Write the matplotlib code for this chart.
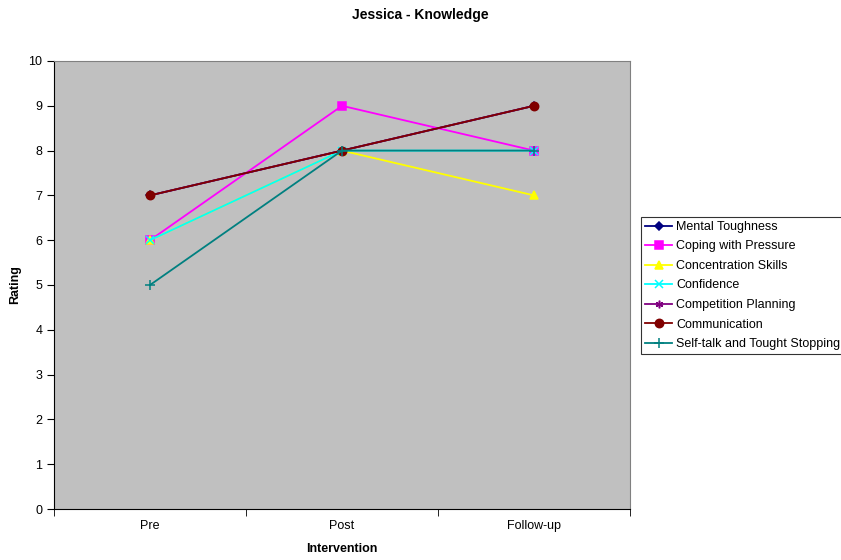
import matplotlib
matplotlib.use('Agg')
import matplotlib.pyplot as plt
from matplotlib.ticker import FixedLocator, NullFormatter

# ============ 数据 ============
phases = ['Pre', 'Post', 'Follow-up']
series_names = ['Mental Toughness', 'Coping with Pressure', 'Concentration Skills',
                'Confidence', 'Competition Planning', 'Communication',
                'Self-talk and Tought Stopping']
mental_toughness = [7, 8, 9]
coping_pressure = [6, 9, 8]
concentration = [6, 8, 7]
confidence = [6, 8, 8]
competition_planning = [7, 8, 9]
communication = [7, 8, 9]
self_talk = [5, 8, 8]

values = [mental_toughness, coping_pressure, concentration, confidence,
          competition_planning, communication, self_talk]
colors = ['#000080', '#FF00FF', '#FFFF00', '#00FFFF', '#800080', '#800000', '#008080']
markers = ['D', 's', '^', 'x', (6, 2, 0), 'o', '+']
sizes = [4.5, 5.5, 5.5, 5.5, 5.5, 6, 7]

plt.rcParams['font.family'] = ['Liberation Sans', 'DejaVu Sans']

fig = plt.figure(figsize=(8.41, 5.6), dpi=100)
ax = fig.add_axes([54 / 841, 1 - 509 / 560, 576 / 841, 448 / 560])
ax.set_facecolor('#C0C0C0')

x = list(range(len(phases)))
for name, vals, c, m, s in zip(series_names, values, colors, markers, sizes):
    ax.plot(x, vals, color=c, marker=m, markersize=s, linewidth=1.3,
            markeredgecolor=c, markerfacecolor=c, markeredgewidth=1.1, label=name)

ax.set_xlim(-0.5, 2.5)
ax.set_ylim(0, 10)
ax.set_yticks(range(0, 11))
ax.set_xticks(x)
ax.set_xticklabels(phases)
# 刻度线画在类别之间
ax.xaxis.set_minor_locator(FixedLocator([-0.5, 0.5, 1.5, 2.5]))
ax.xaxis.set_minor_formatter(NullFormatter())
ax.tick_params(axis='x', which='major', length=0, labelsize=9, pad=8)
ax.tick_params(axis='x', which='minor', length=5, direction='out')
ax.tick_params(axis='y', length=5, direction='out', labelsize=9)

for sp in ['top', 'right']:
    ax.spines[sp].set_color('#808080')
for sp in ['left', 'bottom']:
    ax.spines[sp].set_color('black')

ax.set_ylabel('Rating', fontsize=9, fontweight='bold')
ax.yaxis.set_label_coords((15 - 54) / 576, 0.5)
ax.yaxis.label.set_va('center')
ax.set_xlabel('Intervention', fontsize=9, fontweight='bold', labelpad=8)
fig.text(0.5, 1 - 15 / 560, 'Jessica - Knowledge', ha='center', va='center',
         fontsize=10, fontweight='bold')

leg = ax.legend(loc='center left', bbox_to_anchor=(641 / 841, 1 - 285.5 / 560),
                bbox_transform=fig.transFigure, fontsize=9, frameon=True,
                fancybox=False, edgecolor='black', borderpad=0.3,
                labelspacing=0.6, handlelength=2.2, handletextpad=0.3,
                borderaxespad=0)
leg.get_frame().set_linewidth(0.8)

plt.savefig('out.png', dpi=100)
plt.close()
